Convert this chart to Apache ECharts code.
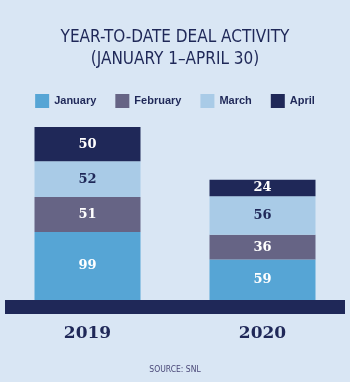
<!DOCTYPE html>
<html>
<head>
<meta charset="utf-8">
<script src="https://cdn.jsdelivr.net/npm/echarts@6/dist/echarts.min.js"></script>
<style>
  html, body { margin: 0; padding: 0; background: #d9e6f4; }
  #main { width: 350px; height: 382px; }
</style>
</head>
<body>
<div id="main"></div>
<script>
// years on the x axis
var years = ['2019', '2020'];
// deals per month, stacked bottom-up
var january  = [99, 59];
var february = [51, 36];
var march    = [52, 56];
var april    = [50, 24];

var navy = '#1f2858';
var serif = '"DejaVu Serif", "Liberation Serif", serif';
var narrow = '"Liberation Sans Narrow", "DejaVu Sans Condensed", sans-serif';

function bar(name, data, color, labelColor)
{
    return {
        name: name,
        type: 'bar',
        stack: 'ytd',
        data: data,
        barWidth: 106,
        itemStyle: { color: color },
        label: {
            show: true,
            position: 'inside',
            color: labelColor,
            fontFamily: serif,
            fontWeight: 'bold',
            fontSize: 13
        }
    };
}

var myChart = echarts.init(document.getElementById('main'), null, { renderer: 'canvas' });

var option = {
    backgroundColor: '#d9e6f4',
    animation: false,
    title: [
        {
            text: 'YEAR-TO-DATE DEAL ACTIVITY\n(JANUARY 1\u2013APRIL 30)',
            left: 'center',
            top: 22,
            textStyle: {
                color: navy,
                fontFamily: narrow,
                fontWeight: 'normal',
                fontSize: 17,
                lineHeight: 22
            }
        },
        {
            text: 'SOURCE: SNL',
            left: 'center',
            top: 360,
            textStyle: {
                color: '#4a4878',
                fontFamily: narrow,
                fontWeight: 'normal',
                fontSize: 8.5
            }
        }
    ],
    legend: {
        left: 'center',
        top: 94,
        padding: 0,
        icon: 'rect',
        itemWidth: 14,
        itemHeight: 14,
        itemGap: 19,
        textStyle: {
            color: navy,
            fontFamily: '"Liberation Sans", Arial, sans-serif',
            fontWeight: 'bold',
            fontSize: 11
        },
        data: ['January', 'February', 'March', 'April']
    },
    grid: { left: 0, right: 0, top: 127, bottom: 82 },
    xAxis: {
        type: 'category',
        data: years,
        axisLine: { show: false },
        axisTick: { show: false },
        axisLabel: {
            margin: 25,
            color: navy,
            fontFamily: serif,
            fontWeight: 'bold',
            fontSize: 17
        }
    },
    yAxis: {
        type: 'value',
        min: 0,
        max: 252,
        show: false
    },
    graphic: [
        {
            type: 'rect',
            shape: { x: 5, y: 300, width: 340, height: 14 },
            style: { fill: navy }
        }
    ],
    series: [
        bar('January', january, '#56a5d5', '#ffffff'),
        bar('February', february, '#666485', '#ffffff'),
        bar('March', march, '#a9cbe7', navy),
        bar('April', april, navy, '#ffffff')
    ]
};

myChart.setOption(option);
</script>
</body>
</html>
